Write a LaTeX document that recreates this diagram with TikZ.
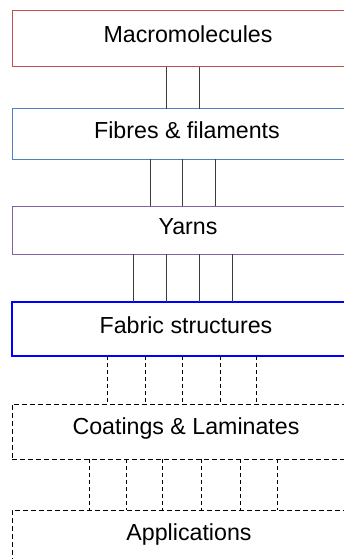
\documentclass[tikz,border=0pt]{standalone}
\usepackage{fontspec}
\setmainfont{Liberation Sans}
\definecolor{cRed}{RGB}{192,80,77}
\definecolor{cBlue}{RGB}{79,129,189}
\definecolor{cPurple}{RGB}{128,100,162}
\definecolor{cFab}{RGB}{0,0,255}
\definecolor{cLink}{RGB}{60,60,60}
\tikzset{
  boxshape/.style={rectangle, inner sep=0pt, outer sep=0pt, minimum width=352pt},
  lbl/.style={inner sep=0pt, anchor=base, font=\fontsize{23.2}{27}\selectfont},
  link/.style={draw=cLink, line width=0.8pt},
  dlink/.style={draw=black, line width=0.8pt, dash pattern=on 4pt off 3pt},
  dbox/.style={boxshape, draw=black, line width=0.8pt, dash pattern=on 5pt off 3pt},
}
\begin{document}
\begin{tikzpicture}[x=1pt,y=-1pt]
\useasboundingbox (0,0) rectangle (344,559);
\clip (0,0) rectangle (344,559);
% boxes
\node[boxshape, draw=cRed, line width=1pt, minimum height=56pt] (b1) at (188,39) {};
\node[boxshape, draw=cBlue, line width=1pt, minimum height=50pt] (b2) at (188,134) {};
\node[boxshape, draw=cPurple, line width=1pt, minimum height=48pt] (b3) at (188,230) {};
\node[boxshape, draw=cFab, line width=2.5pt, minimum height=54pt] (b4) at (188,329) {};
\node[dbox, minimum height=55pt] (b5) at (188,431.5) {};
\node[dbox, minimum height=56pt] (b6) at (188,538) {};
% labels
\node[lbl] (t1) at (188,43) {Macromolecules};
\node[lbl] (t2) at (187,139) {Fibres \& filaments};
\node[lbl] (t3) at (188,234) {Yarns};
\node[lbl] (t4) at (186,333) {Fabric structures};
\node[lbl] (t5) at (186,434) {Coatings \& Laminates};
\node[lbl] (t6) at (189,540) {Applications};
% connectors
\foreach \x in {166,199}
  \draw[link] (b1.south -| \x,0) -- (b2.north -| \x,0);
\foreach \x in {150,182,215}
  \draw[link] (b2.south -| \x,0) -- (b3.north -| \x,0);
\foreach \x in {133,166,199,232}
  \draw[link] (b3.south -| \x,0) -- (b4.north -| \x,0);
\foreach \x in {107,145,182,220,256}
  \draw[dlink] (b4.south -| \x,0) -- (b5.north -| \x,0);
\foreach \x in {89,126,162,201,240,277}
  \draw[dlink] (b5.south -| \x,0) -- (b6.north -| \x,0);
\end{tikzpicture}
\end{document}
